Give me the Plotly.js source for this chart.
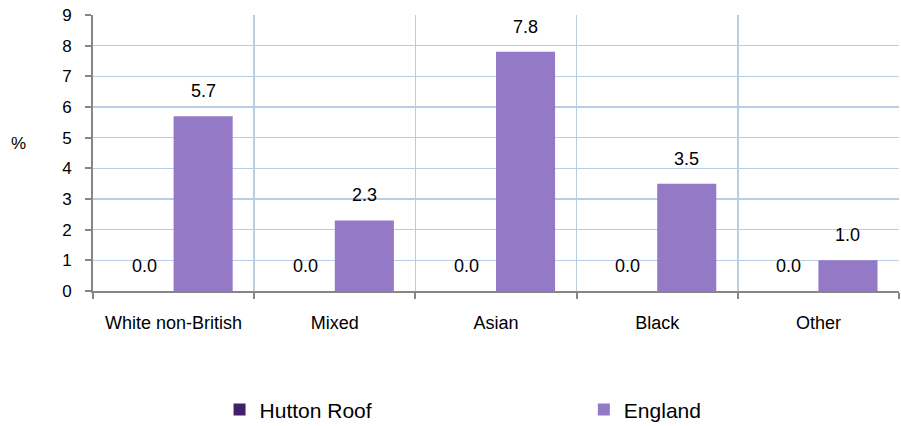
<!DOCTYPE html>
<html>
<head>
<meta charset="utf-8">
<script src="https://cdn.plot.ly/plotly-3.0.1.min.js"></script>
<style>html,body{margin:0;padding:0;background:#fff;}#chart{width:901px;height:426px;}</style>
</head>
<body>
<div id="chart"></div>
<script>
var categories = ["White non-British", "Mixed", "Asian", "Black", "Other"];
var huttonRoof = [0.0, 0.0, 0.0, 0.0, 0.0];
var england = [5.7, 2.3, 7.8, 3.5, 1.0];
var seriesNames = ["Hutton Roof", "England"];
var yTicks = [0, 1, 2, 3, 4, 5, 6, 7, 8, 9];

var FONT = "Liberation Sans, Arial, sans-serif";
var traces = [
  {type: "bar", name: seriesNames[0], x: categories, y: huttonRoof, legend: "legend",
   marker: {color: "#3f2169"}, hoverinfo: "skip"},
  {type: "bar", name: seriesNames[1], x: categories, y: england, legend: "legend2",
   marker: {color: "#9479c6"}, hoverinfo: "skip"}
];

var annotations = [];
function addLabels(vals, shift) {
  for (var i = 0; i < categories.length; i++) {
    annotations.push({x: categories[i], y: vals[i], xref: "x", yref: "y",
      text: vals[i].toFixed(1), showarrow: false, xshift: shift, yshift: 25,
      yanchor: "middle", font: {family: FONT, size: 18, color: "#000"}});
  }
}
addLabels(huttonRoof, -29.5);
addLabels(england, 29.5);
annotations.push({xref: "paper", yref: "paper", x: -0.092, y: 0.535, text: "%",
  showarrow: false, xanchor: "center", yanchor: "middle",
  font: {family: FONT, size: 17, color: "#000"}});

var legendBase = {orientation: "h", y: -0.431, xanchor: "left", yanchor: "middle",
  bgcolor: "rgba(0,0,0,0)", font: {family: FONT, size: 21, color: "#000"}, itemclick: false};

var layout = {
  width: 901, height: 426,
  margin: {l: 93, r: 2, t: 15, b: 135, pad: 0, autoexpand: false},
  paper_bgcolor: "#fff", plot_bgcolor: "#fff",
  font: {family: FONT, size: 16, color: "#000"},
  barmode: "group", bargap: 0.267, bargroupgap: 0,
  showlegend: true,
  legend: Object.assign({}, legendBase, {x: 0.157}),
  legend2: Object.assign({}, legendBase, {x: 0.609}),
  xaxis: {type: "category", tickson: "boundaries", showgrid: true,
    gridcolor: "#b9cde5", gridwidth: 1.5, showline: true, linecolor: "#868686",
    linewidth: 2, ticks: "outside", ticklen: 6, tickcolor: "#868686", tickwidth: 2,
    ticklabelstandoff: 14, tickfont: {family: FONT, size: 18, color: "#000"},
    fixedrange: true, automargin: false},
  yaxis: {range: [0, 9], tickvals: yTicks, ticktext: yTicks.map(String),
    showgrid: true, gridcolor: "#b9cde5", gridwidth: 1.5, zeroline: false,
    showline: true, linecolor: "#868686", linewidth: 2, ticks: "outside",
    ticklen: 6, tickcolor: "#868686", tickwidth: 2, ticklabelstandoff: 10,
    tickfont: {family: FONT, size: 17, color: "#000"}, fixedrange: true, automargin: false},
  annotations: annotations
};

Plotly.newPlot("chart", traces, layout, {displayModeBar: false, staticPlot: true});
</script>
</body>
</html>
